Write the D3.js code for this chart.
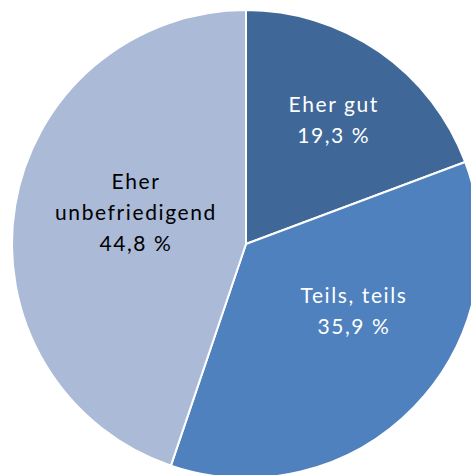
<!DOCTYPE html>
<html>
<head>
<meta charset="utf-8">
<script src="https://cdn.jsdelivr.net/npm/d3@7"></script>
<style>
  body { margin: 0; background: #fff; }
  text { font-family: Lato, "Noto Sans", sans-serif; font-size: 21px; letter-spacing: 1.6px; }
</style>
</head>
<body>
<div id="chart"></div>
<script>
let svgWidth = 471;
let svgHeight = 475;

// Data
let categories = ["Eher gut", "Teils, teils", "Eher unbefriedigend"];
let values = [19.3, 35.9, 44.8];
let labelLines = [["Eher gut", "19,3 %"], ["Teils, teils", "35,9 %"], ["Eher", "unbefriedigend", "44,8 %"]];
let colors = ["#3F6898", "#4E81BD", "#AABAD7"];
let textColors = ["#ffffff", "#ffffff", "#000000"];

let cx = 246, cy = 244, radius = 234;
// label placement: radius per slice plus small nudges (Excel best fit)
let labelRadius = [149, 120, 86];
let nudge = [[2, -1], [21, -16], [-26, -17]];

let svg = d3.select("#chart")
  .append("svg")
  .attr("width", svgWidth)
  .attr("height", svgHeight);

let g = svg.append("g")
  .attr("transform", `translate(${cx}, ${cy})`);

let pie = d3.pie().sort(null).value(d => d);
let arcs = pie(values);

let arc = d3.arc().innerRadius(0).outerRadius(radius);

g.selectAll("path")
  .data(arcs)
  .enter()
  .append("path")
  .attr("d", arc)
  .attr("fill", (d, i) => colors[i])
  .attr("stroke", "#fff")
  .attr("stroke-width", 2)
  .attr("stroke-linejoin", "round");

let lineH = 31;
arcs.forEach((d, i) => {
  let a = (d.startAngle + d.endAngle) / 2;
  let x = labelRadius[i] * Math.sin(a) + nudge[i][0];
  let y = -labelRadius[i] * Math.cos(a) + nudge[i][1];
  let lines = labelLines[i];
  let t = g.append("text")
    .attr("text-anchor", "middle")
    .attr("fill", textColors[i]);
  lines.forEach((s, k) => {
    t.append("tspan")
      .attr("x", x + 0.8)
      .attr("y", y + (k - (lines.length - 1) / 2) * lineH)
      .attr("dy", "0.35em")
      .text(s);
  });
});
</script>
</body>
</html>
